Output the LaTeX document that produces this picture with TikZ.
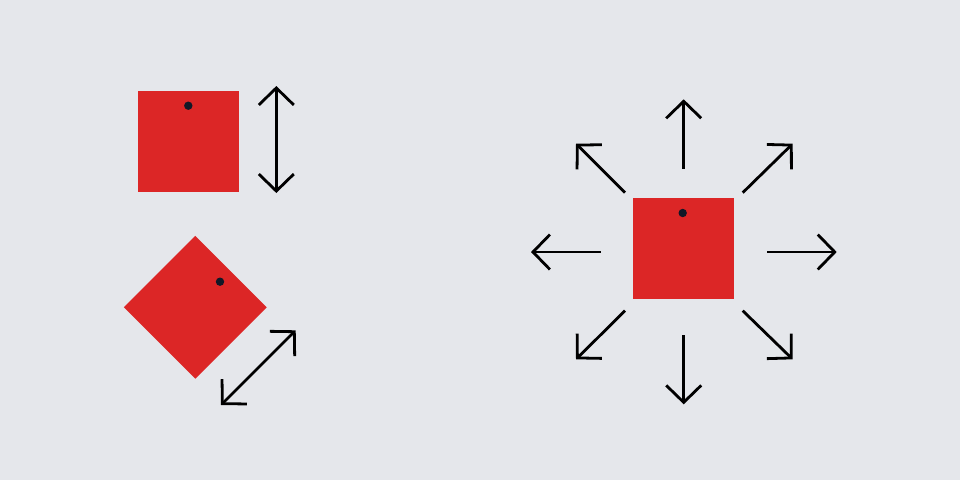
\documentclass[tikz,border=0pt]{standalone}
\usetikzlibrary{arrows.meta}
\definecolor{bg}{HTML}{E5E7EB}
\definecolor{sqred}{HTML}{DC2626}
\definecolor{dotc}{HTML}{111827}
\tikzset{
  sq/.style={fill=sqred, draw=none, minimum size=101pt, inner sep=0pt, outer sep=0pt},
  pin/.style={circle, fill=dotc, draw=none, minimum size=8.4pt, inner sep=0pt},
  barb/.tip={Straight Barb[length=17pt,width=35pt]},
  arr/.style={draw=black, line width=2.8pt, barb-barb},
  oarr/.style={draw=black, line width=2.8pt, -barb}
}
\begin{document}
\begin{tikzpicture}[x=1pt,y=-1pt]
\useasboundingbox[fill=bg] (0,0) rectangle (960,480);
% top-left square
\node[sq] (s1) at (188.8,141.2) {};
\node[pin] (d1) at (188.3,105.7) {};
\coordinate (a1t) at (276.3,86);
\coordinate (a1b) at (276.3,193);
\draw[arr] (a1b) -- (a1t);
% diamond
\node[sq, rotate=45] (s2) at (195.3,307.3) {};
\node[pin] (d2) at (220,281.7) {};
\coordinate (a2ne) at (295.7,330.3);
\coordinate (a2sw) at (221,405);
\draw[arr] (a2sw) -- (a2ne);
% right square
\node[sq] (s3) at (683.4,248.4) {};
\node[pin] (d3) at (682.7,213) {};
\coordinate (uT) at (683.7,168.7); \coordinate (uH) at (683.7,99.3);
\coordinate (dT) at (683.7,335);   \coordinate (dH) at (683.7,404.3);
\coordinate (lT) at (600.7,252);   \coordinate (lH) at (531,252);
\coordinate (rT) at (767,252);     \coordinate (rH) at (836.7,252);
\coordinate (neT) at (742.7,192.7); \coordinate (neH) at (792.7,143.7);
\coordinate (nwT) at (625,192.7);   \coordinate (nwH) at (576,143.7);
\coordinate (seT) at (742.7,310.7); \coordinate (seH) at (792.7,359.3);
\coordinate (swT) at (625,310.7);   \coordinate (swH) at (576,359.3);
\foreach \n in {u,d,l,r,ne,nw,se,sw}{
  \draw[oarr] (\n T) -- (\n H);
}
\end{tikzpicture}
\end{document}
